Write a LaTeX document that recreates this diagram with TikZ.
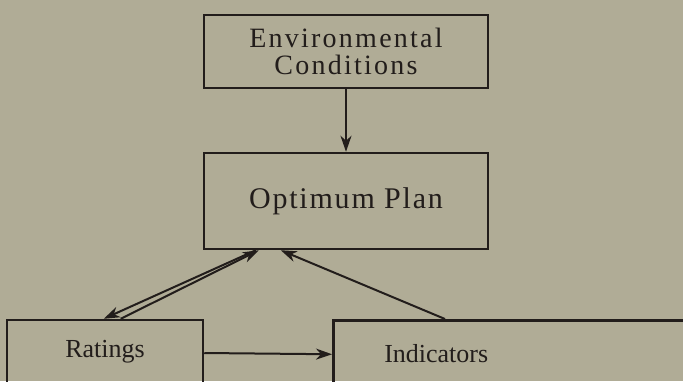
\documentclass[tikz,border=0pt]{standalone}
\usepackage{fontspec}
\setmainfont{Liberation Serif}
\newfontfamily\spacedA[LetterSpace=8]{Liberation Serif}
\newfontfamily\spacedB[LetterSpace=6]{Liberation Serif}
\usetikzlibrary{arrows.meta}
\definecolor{bg}{RGB}{176,172,150}
\definecolor{ink}{RGB}{34,29,27}
\begin{document}
\begin{tikzpicture}[x=1pt,y=-1pt,
  box/.style={draw=ink, line width=2.5pt, inner sep=0pt, text=ink},
  arr/.style={draw=ink, line width=2pt, -{Stealth[length=16pt,width=11pt,inset=5pt]}}]
\useasboundingbox (0,0) rectangle (683,381);
\fill[bg] (0,0) rectangle (683,381);
\clip (0,0) rectangle (683,381);
\node[box, minimum width=284pt, minimum height=73pt, align=center,
      font=\spacedA\fontsize{28}{27}\selectfont] (env) at (346,51.5) {Environmental\\Conditions};
\node[box, minimum width=284pt, minimum height=96pt,
      font=\spacedB\fontsize{30}{32}\selectfont] (opt) at (346,201) {Optimum Plan};
\node[box, minimum width=196pt, minimum height=64pt,
      font=\fontsize{26}{28}\selectfont] (rat) at (105,352) {Ratings};
\node[box, anchor=north west, minimum height=66pt, text width=268pt, inner xsep=51pt, align=left,
      font=\fontsize{26}{28}\selectfont] (ind) at (332,319) {Indicators};
\draw[arr] (env.south) -- (opt.north);
\draw[arr] ([xshift=53pt]opt.south west) -- ([xshift=98pt]rat.north west);
\draw[arr] ([xshift=115pt]rat.north west) -- ([xshift=56pt]opt.south west);
\draw[arr] ([xshift=113pt]ind.north west) -- ([xshift=78pt]opt.south west);
\draw[arr] ([yshift=-1pt]rat.east) -- ([yshift=-1pt]ind.west);
\end{tikzpicture}
\end{document}
